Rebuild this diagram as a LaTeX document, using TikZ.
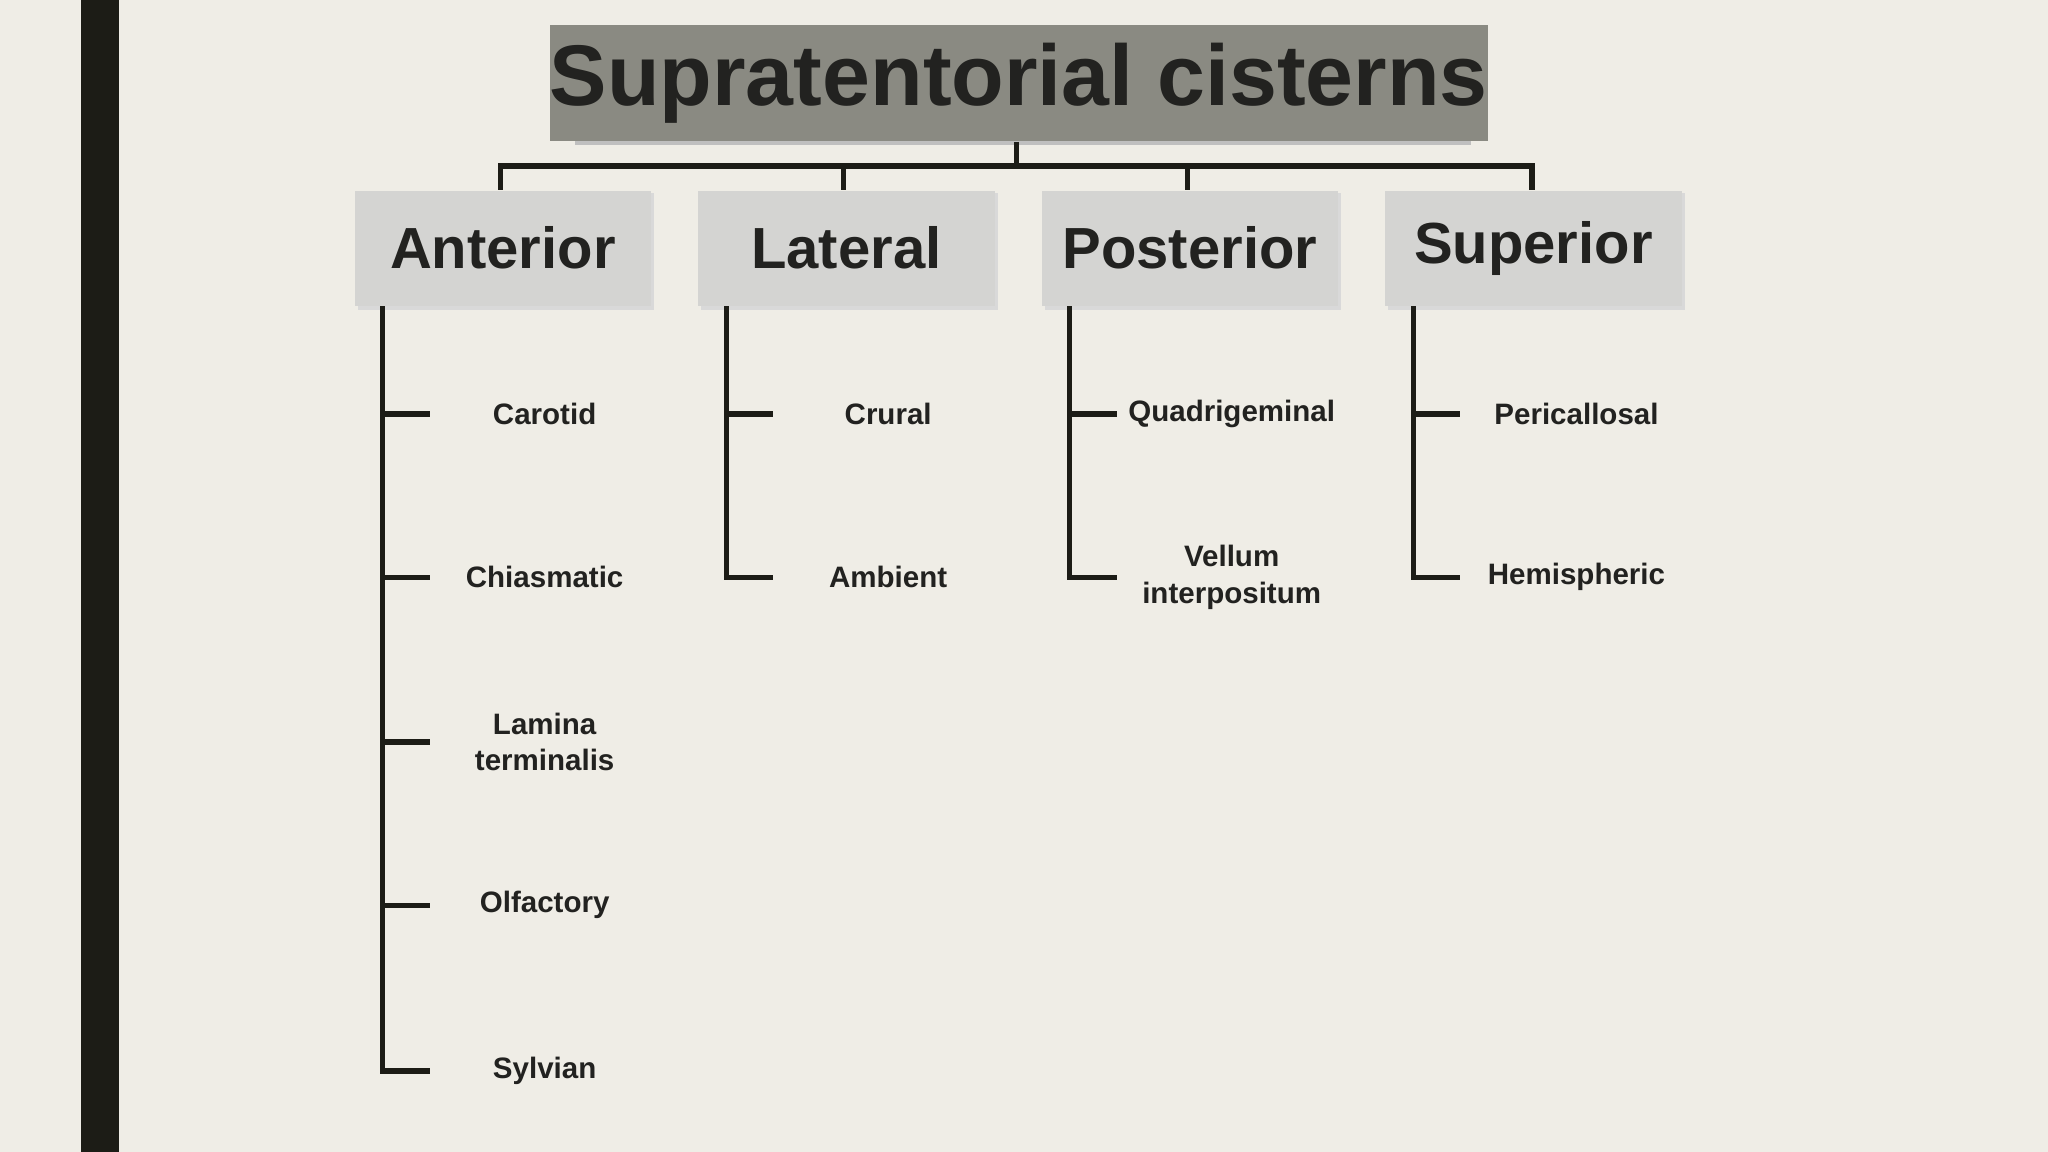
\documentclass[tikz,border=0pt]{standalone}
\usepackage{fontspec}
\setmainfont{Liberation Sans}
\definecolor{bg}{HTML}{EFEDE6}
\definecolor{bar}{HTML}{1C1C16}
\definecolor{titlefill}{HTML}{8A8A82}
\definecolor{catfill}{HTML}{D4D4D2}
\definecolor{ink}{HTML}{222220}
\tikzset{
  conn/.style={draw=bar,line width=1.5pt},
  catbox/.style={fill=catfill,minimum width=227\px,minimum height=88\px,font=\fontsize{16.5}{18}\selectfont\bfseries,text=ink,inner sep=0pt},
  leaf/.style={font=\fontsize{8.4}{10.4}\selectfont\bfseries,text=ink,align=center,inner sep=1pt}
}
\newlength{\px}\setlength{\px}{0.013061cm}
\begin{document}
\begin{tikzpicture}[x=0.013061cm,y=-0.013061cm]
\fill[bg] (0,0) rectangle (1568,882);
\useasboundingbox (0,0) rectangle (1568,882);
\fill[bar] (62,0) rectangle (91,882);
% title
\fill[black!25] (440,22) rectangle (1126,111);
\node[fill=titlefill,minimum width=686\px,minimum height=89\px,inner sep=0pt,font=\fontsize{24.5}{28}\selectfont\bfseries,text=ink] (title) at (780,63.5) {Supratentorial cisterns};
% categories
\foreach \n/\x/\t in {ant/385/Anterior,lat/648/Lateral,pos/911/Posterior,sup/1174/Superior}{
  \fill[black!15] (\x-111,148) rectangle (\x+116,237);
  \node[catbox] (\n) at (\x,190) {\t};
}
\coordinate (hub) at (778,127);
\draw[conn] (title.south -| hub) -- (hub);
\draw[conn] (ant.north -| 383,0) |- (hub) -| (sup.north -| 1173,0);
\draw[conn] (lat.north -| 646,0) -- (646,127);
\draw[conn] (pos.north -| 909,0) -- (909,127);
% leaves
\foreach \c/\lx/\tx/\cx/\list in {
  ant/293/329/417/{317/Carotid,442/Chiasmatic,568/{Lamina\\terminalis},693/Olfactory,820/Sylvian},
  lat/556/592/680/{317/Crural,442/Ambient},
  pos/819/855/943/{317/Quadrigeminal,442/{Vellum\\interpositum}},
  sup/1082/1118/1207/{317/Pericallosal,442/Hemispheric}}{
  \foreach \y/\t [count=\i] in \list {
    \node[leaf] (\c-\i) at (\cx,\y) {\t};
    \draw[conn] (\lx,\y) -- (\tx,\y);
    \xdef\lasty{\y}
  }
  \draw[conn] (\c.south -| \lx,0) -- (\lx,\lasty) -- (\tx,\lasty);
}
\end{tikzpicture}
\end{document}
